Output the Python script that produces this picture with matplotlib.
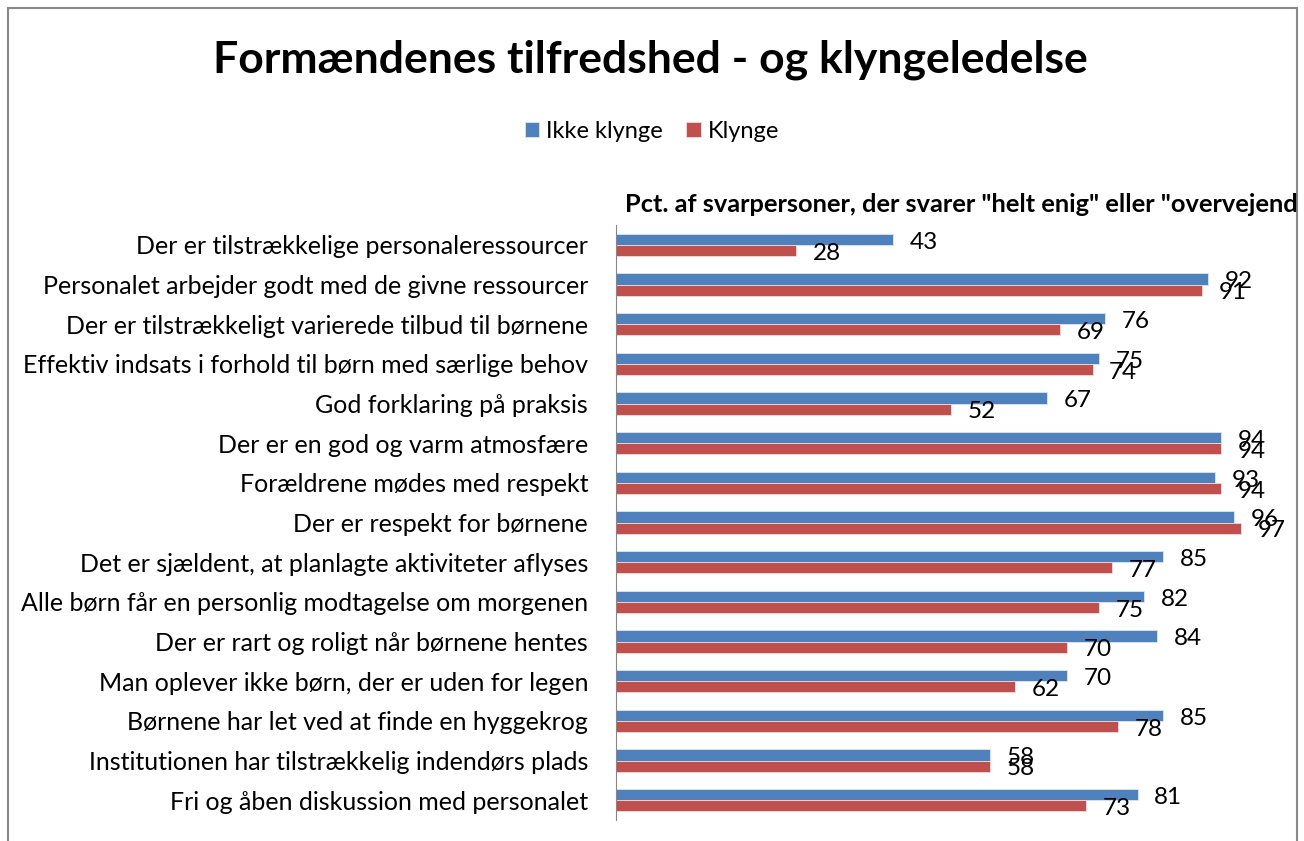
import matplotlib
matplotlib.use("Agg")
import matplotlib.pyplot as plt
import matplotlib.patches as patches
import numpy as np

plt.rcParams['font.family'] = ['Lato', 'DejaVu Sans']

# Data
kategorier = [
    "Der er tilstrækkelige personaleressourcer",
    "Personalet arbejder godt med de givne ressourcer",
    "Der er tilstrækkeligt varierede tilbud til børnene",
    "Effektiv indsats i forhold til børn med særlige behov",
    "God forklaring på praksis",
    "Der er en god og varm atmosfære",
    "Forældrene mødes med respekt",
    "Der er respekt for børnene",
    "Det er sjældent, at planlagte aktiviteter aflyses",
    "Alle børn får en personlig modtagelse om morgenen",
    "Der er rart og roligt når børnene hentes",
    "Man oplever ikke børn, der er uden for legen",
    "Børnene har let ved at finde en hyggekrog",
    "Institutionen har tilstrækkelig indendørs plads",
    "Fri og åben diskussion med personalet",
]
ikke_klynge = [43, 92, 76, 75, 67, 94, 93, 96, 85, 82, 84, 70, 85, 58, 81]
klynge = [28, 91, 69, 74, 52, 94, 94, 97, 77, 75, 70, 62, 78, 58, 73]

blaa = "#4F81BD"
roed = "#C0504D"

W, H = 1304, 841
fig = plt.figure(figsize=(W / 100, H / 100), dpi=100)

# ramme om diagrammet
border = patches.Rectangle((8 / W, -0.02), 1289 / W, 1 - 8 / H + 0.02,
                           transform=fig.transFigure, fill=False,
                           edgecolor="#888888", linewidth=1.5)
fig.patches.append(border)

ax = fig.add_axes([616 / W, 1 - 820 / H, 644 / W, (820 - 225) / H])

y = np.arange(len(kategorier))
h = 0.28
b1 = ax.barh(y - h / 2, ikke_klynge, height=h, color=blaa, edgecolor="#DCE6F2", linewidth=0.6, label="Ikke klynge")
b2 = ax.barh(y + h / 2, klynge, height=h, color=roed, edgecolor="#F2DCDB", linewidth=0.6, label="Klynge")

for bars in (b1, b2):
    for bar in bars:
        v = bar.get_width()
        ax.annotate(f"{v:g}", (v, bar.get_y() + bar.get_height() / 2),
                    xytext=(12, -2), textcoords="offset points",
                    ha="left", va="center", fontsize=17.5, color="black")

ax.set_xlim(0, 100)
ax.set_ylim(len(kategorier) - 0.5, -0.5)
ax.set_yticks(y)
ax.set_yticklabels(kategorier, fontsize=18)
ax.tick_params(axis="y", length=0, pad=20)
ax.set_xticks([])
for s in ("top", "right", "bottom"):
    ax.spines[s].set_visible(False)
ax.spines["left"].set_color("#868686")

fig.text(650 / W, 1 - 60 / H, "Formændenes tilfredshed - og klyngeledelse",
         ha="center", va="center", fontsize=32, fontweight="bold")

# aksetitel, beskåret af rammen som i originalen
t = fig.text(625 / W, 1 - 205 / H,
             'Pct. af svarpersoner, der svarer "helt enig" eller "overvejende enig"',
             ha="left", va="center", fontsize=18.3, fontweight="bold")
t.set_clip_path(border)

fig.legend(handles=[b1, b2], loc="center", bbox_to_anchor=(652 / W, 1 - 131 / H),
           ncol=2, frameon=False, fontsize=17, handlelength=0.6, handleheight=0.6,
           handletextpad=0.3, columnspacing=1.0)

fig.savefig("out.png", dpi=100)
